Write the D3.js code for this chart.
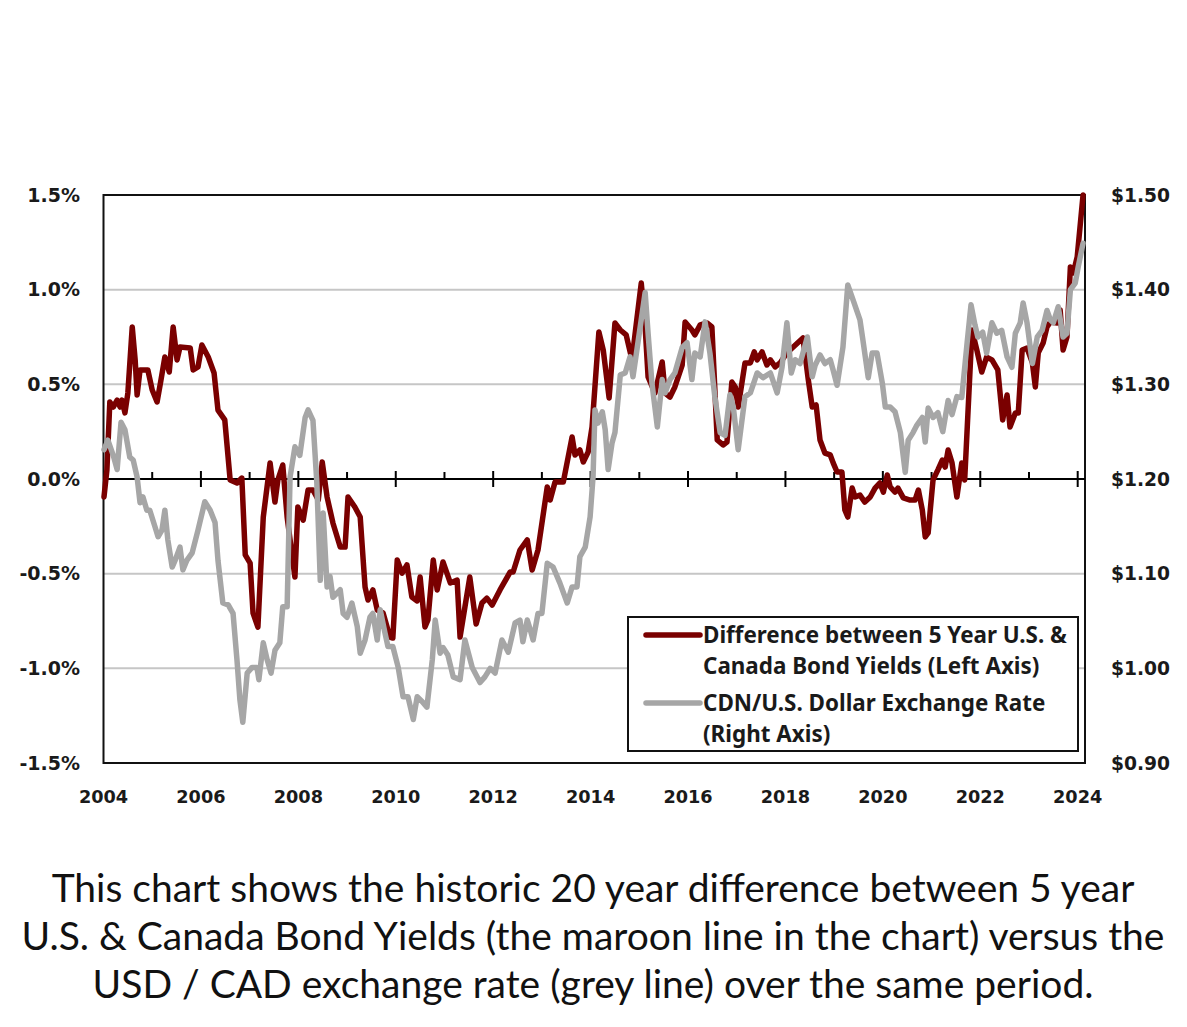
<!DOCTYPE html>
<html><head><meta charset="utf-8">
<script src="https://cdn.jsdelivr.net/npm/d3@7"></script>
<style>html,body{margin:0;padding:0;background:#fff;}</style>
</head><body>
<svg id="c" width="1187" height="1027"></svg>
<script>
// ---------- DATA ----------
const leftTicks = [-1.5, -1.0, -0.5, 0.0, 0.5, 1.0, 1.5];
const rightTicks = [0.90, 1.00, 1.10, 1.20, 1.30, 1.40, 1.50];
const yearTicks = [2004, 2006, 2008, 2010, 2012, 2014, 2016, 2018, 2020, 2022, 2024];
const minorYears = [2005, 2007, 2009, 2011, 2013, 2015, 2017, 2019, 2021, 2023];

const spreadDates = [2004.01,2004.07,2004.13,2004.20,2004.28,2004.34,2004.38,2004.44,2004.50,2004.59,2004.65,2004.69,2004.75,2004.91,2005.00,2005.10,2005.18,2005.26,2005.35,2005.43,2005.51,2005.57,2005.78,2005.84,2005.94,2006.02,2006.15,2006.27,2006.35,2006.49,2006.60,2006.74,2006.84,2006.91,2007.01,2007.07,2007.17,2007.28,2007.42,2007.52,2007.58,2007.68,2007.77,2007.93,2007.99,2008.10,2008.20,2008.30,2008.41,2008.49,2008.59,2008.71,2008.86,2008.96,2009.02,2009.16,2009.27,2009.37,2009.43,2009.53,2009.62,2009.74,2009.88,2009.94,2010.03,2010.13,2010.23,2010.33,2010.44,2010.50,2010.60,2010.66,2010.77,2010.85,2010.97,2011.12,2011.26,2011.32,2011.42,2011.52,2011.65,2011.77,2011.87,2011.98,2012.14,2012.35,2012.41,2012.55,2012.70,2012.80,2012.92,2013.11,2013.17,2013.27,2013.44,2013.62,2013.68,2013.78,2013.85,2013.95,2014.03,2014.17,2014.26,2014.38,2014.50,2014.61,2014.73,2014.85,2014.93,2015.04,2015.12,2015.18,2015.32,2015.47,2015.53,2015.63,2015.73,2015.88,2015.94,2016.08,2016.14,2016.25,2016.39,2016.49,2016.60,2016.72,2016.80,2016.90,2016.97,2017.03,2017.17,2017.28,2017.36,2017.42,2017.52,2017.62,2017.69,2017.79,2017.89,2018.03,2018.16,2018.36,2018.47,2018.55,2018.63,2018.71,2018.81,2018.92,2018.98,2019.06,2019.16,2019.22,2019.28,2019.37,2019.43,2019.53,2019.63,2019.74,2019.84,2019.94,2020.01,2020.09,2020.15,2020.25,2020.31,2020.42,2020.56,2020.66,2020.73,2020.81,2020.87,2020.93,2021.03,2021.13,2021.22,2021.28,2021.34,2021.42,2021.52,2021.62,2021.68,2021.83,2021.93,2022.03,2022.13,2022.24,2022.36,2022.46,2022.55,2022.61,2022.72,2022.78,2022.86,2022.96,2023.07,2023.13,2023.19,2023.29,2023.37,2023.44,2023.58,2023.64,2023.70,2023.78,2023.85,2023.91,2023.99,2024.11];
const spreadValues = [-0.095,0.048,0.407,0.380,0.417,0.380,0.417,0.349,0.454,0.803,0.629,0.444,0.576,0.576,0.470,0.407,0.523,0.644,0.565,0.803,0.629,0.697,0.692,0.576,0.592,0.708,0.644,0.560,0.364,0.312,-0.005,-0.021,0.005,-0.401,-0.444,-0.708,-0.782,-0.201,0.085,-0.122,-0.005,0.074,-0.201,-0.518,-0.148,-0.217,-0.058,-0.058,-0.111,0.090,-0.095,-0.232,-0.359,-0.359,-0.095,-0.148,-0.201,-0.571,-0.639,-0.586,-0.692,-0.708,-0.835,-0.840,-0.428,-0.497,-0.454,-0.623,-0.644,-0.518,-0.782,-0.745,-0.428,-0.586,-0.438,-0.549,-0.534,-0.835,-0.676,-0.518,-0.766,-0.655,-0.629,-0.666,-0.586,-0.491,-0.491,-0.375,-0.322,-0.481,-0.375,-0.042,-0.111,-0.016,-0.016,0.222,0.127,0.153,0.090,0.143,0.275,0.777,0.681,0.428,0.824,0.787,0.761,0.629,0.803,1.035,0.803,0.539,0.454,0.618,0.454,0.433,0.486,0.602,0.829,0.787,0.761,0.814,0.824,0.803,0.206,0.180,0.195,0.512,0.486,0.380,0.613,0.613,0.671,0.629,0.671,0.602,0.629,0.592,0.613,0.666,0.697,0.745,0.523,0.380,0.391,0.206,0.137,0.127,0.085,0.037,0.037,-0.164,-0.201,-0.048,-0.095,-0.085,-0.122,-0.095,-0.048,-0.021,-0.069,0.021,-0.042,-0.069,-0.048,-0.100,-0.111,-0.111,-0.058,-0.164,-0.306,-0.285,-0.005,0.048,0.100,0.063,0.153,0.085,-0.095,0.085,-0.005,0.787,0.681,0.565,0.644,0.629,0.576,0.312,0.444,0.275,0.349,0.349,0.681,0.692,0.613,0.486,0.666,0.718,0.803,0.829,0.824,0.893,0.681,0.750,1.120,1.088,1.173,1.50];

const fxDates = [2004.01,2004.09,2004.20,2004.28,2004.36,2004.44,2004.54,2004.61,2004.69,2004.75,2004.81,2004.89,2004.95,2005.06,2005.12,2005.20,2005.26,2005.32,2005.41,2005.47,2005.57,2005.63,2005.71,2005.82,2005.94,2006.08,2006.19,2006.29,2006.35,2006.45,2006.56,2006.66,2006.74,2006.80,2006.86,2006.95,2007.05,2007.15,2007.19,2007.28,2007.36,2007.44,2007.52,2007.62,2007.68,2007.77,2007.83,2007.93,2008.03,2008.14,2008.20,2008.30,2008.38,2008.45,2008.51,2008.59,2008.65,2008.71,2008.86,2008.92,2009.00,2009.10,2009.21,2009.27,2009.37,2009.47,2009.53,2009.62,2009.68,2009.78,2009.84,2009.94,2010.05,2010.15,2010.25,2010.36,2010.44,2010.54,2010.64,2010.75,2010.81,2010.91,2010.97,2011.07,2011.18,2011.32,2011.42,2011.57,2011.73,2011.83,2011.94,2012.04,2012.18,2012.31,2012.45,2012.55,2012.61,2012.70,2012.76,2012.82,2012.92,2013.00,2013.11,2013.23,2013.37,2013.52,2013.62,2013.72,2013.78,2013.89,2013.99,2014.05,2014.09,2014.15,2014.24,2014.30,2014.36,2014.44,2014.50,2014.61,2014.71,2014.81,2014.87,2014.93,2015.12,2015.18,2015.26,2015.37,2015.47,2015.53,2015.63,2015.73,2015.88,2015.98,2016.08,2016.14,2016.25,2016.35,2016.45,2016.55,2016.66,2016.76,2016.86,2016.93,2017.03,2017.17,2017.28,2017.42,2017.54,2017.69,2017.83,2017.93,2018.03,2018.12,2018.20,2018.30,2018.45,2018.55,2018.61,2018.71,2018.81,2018.92,2018.98,2019.06,2019.18,2019.28,2019.39,2019.53,2019.59,2019.70,2019.78,2019.88,2019.99,2020.05,2020.15,2020.25,2020.36,2020.46,2020.52,2020.62,2020.70,2020.81,2020.87,2020.93,2021.03,2021.13,2021.23,2021.34,2021.42,2021.52,2021.62,2021.73,2021.81,2021.89,2021.95,2022.05,2022.13,2022.24,2022.34,2022.44,2022.55,2022.65,2022.72,2022.82,2022.88,2022.96,2023.07,2023.17,2023.27,2023.37,2023.44,2023.50,2023.60,2023.70,2023.78,2023.85,2023.95,2024.01,2024.11];
const fxValues = [1.231,1.241,1.225,1.210,1.260,1.252,1.223,1.220,1.202,1.175,1.181,1.167,1.167,1.149,1.139,1.146,1.167,1.136,1.107,1.114,1.128,1.104,1.114,1.122,1.146,1.176,1.167,1.154,1.114,1.069,1.067,1.058,1.009,0.967,0.943,0.995,1.001,1.001,0.988,1.027,1.009,0.995,1.019,1.027,1.065,1.065,1.202,1.234,1.225,1.265,1.273,1.262,1.196,1.093,1.164,1.086,1.097,1.075,1.083,1.058,1.054,1.069,1.044,1.016,1.030,1.054,1.058,1.030,1.062,1.037,1.023,1.023,1.001,0.970,0.970,0.946,0.970,0.965,0.959,1.009,1.051,1.016,1.022,1.014,0.991,0.988,1.030,1.001,0.985,0.991,1.000,0.995,1.030,1.017,1.048,1.051,1.028,1.051,1.041,1.030,1.058,1.058,1.111,1.107,1.090,1.069,1.086,1.086,1.118,1.128,1.160,1.202,1.273,1.259,1.271,1.252,1.210,1.238,1.249,1.310,1.312,1.329,1.308,1.329,1.397,1.354,1.301,1.255,1.305,1.291,1.305,1.312,1.339,1.344,1.305,1.333,1.329,1.366,1.333,1.287,1.249,1.246,1.289,1.276,1.231,1.287,1.291,1.312,1.307,1.312,1.291,1.318,1.365,1.312,1.326,1.322,1.350,1.308,1.320,1.331,1.322,1.326,1.315,1.299,1.339,1.405,1.389,1.368,1.347,1.307,1.333,1.333,1.301,1.276,1.276,1.271,1.249,1.207,1.241,1.249,1.257,1.265,1.239,1.275,1.265,1.270,1.250,1.283,1.268,1.287,1.286,1.344,1.384,1.363,1.350,1.355,1.333,1.365,1.354,1.357,1.329,1.318,1.354,1.365,1.386,1.365,1.322,1.350,1.357,1.378,1.368,1.365,1.382,1.350,1.354,1.400,1.407,1.424,1.449];

const legendLabels = [
  ["Difference between 5 Year U.S. &", "Canada Bond Yields (Left Axis)"],
  ["CDN/U.S. Dollar Exchange Rate", "(Right Axis)"]
];
const captionLines = [
  "This chart shows the historic 20 year difference between 5 year",
  "U.S. & Canada Bond Yields (the maroon line in the chart) versus the",
  "USD / CAD exchange rate (grey line) over the same period."
];

// ---------- CHART ----------
const MAROON = "#7a0000", GREY = "#a6a6a6";
const svg = d3.select("#c");
const L = 103.5, R = 1085, T = 195, B = 763;
const x = d3.scaleLinear().domain([2004, 2024.15]).range([L, R]);
const yL = d3.scaleLinear().domain([-1.5, 1.5]).range([B, T]);
const yR = d3.scaleLinear().domain([0.9, 1.5]).range([B, T]);
const axisFont = "'DejaVu Sans', Verdana, sans-serif";

// gridlines
svg.append("g").selectAll("line").data(leftTicks.filter(d => d !== 0 && Math.abs(d) !== 1.5))
  .join("line").attr("x1", L).attr("x2", R).attr("y1", d => yL(d)).attr("y2", d => yL(d))
  .attr("stroke", "#c6c6c6").attr("stroke-width", 2);

// frame
svg.append("rect").attr("x", L).attr("y", T).attr("width", R - L).attr("height", B - T)
  .attr("fill", "none").attr("stroke", "#111").attr("stroke-width", 2);

// zero axis with ticks
const xAxisG = svg.append("g").attr("transform", `translate(0,${yL(0)})`);
xAxisG.append("line").attr("x1", L).attr("x2", R).attr("stroke", "#000").attr("stroke-width", 2);
xAxisG.selectAll("line.maj").data(yearTicks.slice(1)).join("line").attr("class", "maj")
  .attr("x1", d => x(d)).attr("x2", d => x(d)).attr("y1", -8).attr("y2", 8)
  .attr("stroke", "#000").attr("stroke-width", 2);
xAxisG.selectAll("line.min").data(minorYears).join("line").attr("class", "min")
  .attr("x1", d => x(d)).attr("x2", d => x(d)).attr("y1", -7).attr("y2", 0)
  .attr("stroke", "#000").attr("stroke-width", 2);

// left labels (hyphen-minus, as in the original)
const fmtL = d => (d < 0 ? "-" : "") + Math.abs(d).toFixed(1) + "%";
svg.append("g").selectAll("text").data(leftTicks).join("text")
  .attr("x", 80).attr("y", d => yL(d)).attr("dy", "0.35em").attr("text-anchor", "end")
  .attr("font-family", axisFont).attr("font-weight", "bold").attr("font-size", 19).attr("fill", "#1a1a1a")
  .text(fmtL);
// right labels
svg.append("g").selectAll("text").data(rightTicks).join("text")
  .attr("x", 1111).attr("y", d => yR(d)).attr("dy", "0.35em").attr("text-anchor", "start")
  .attr("font-family", axisFont).attr("font-weight", "bold").attr("font-size", 18.7).attr("fill", "#1a1a1a")
  .text(d => "$" + d.toFixed(2));
// bottom labels
svg.append("g").selectAll("text").data(yearTicks).join("text")
  .attr("x", d => x(d)).attr("y", 797).attr("dy", "0.35em").attr("text-anchor", "middle")
  .attr("font-family", axisFont).attr("font-weight", "bold").attr("font-size", 17.7).attr("fill", "#1a1a1a")
  .text(d => d);

// lines (grey drawn over maroon, as in the original)
const spreadData = spreadDates.map((d, i) => [d, spreadValues[i]]);
const fxData = fxDates.map((d, i) => [d, fxValues[i]]);
svg.append("path").datum(spreadData)
  .attr("d", d3.line().x(d => x(d[0])).y(d => yL(d[1])))
  .attr("fill", "none").attr("stroke", MAROON).attr("stroke-width", 5.5)
  .attr("stroke-linejoin", "round").attr("stroke-linecap", "round");
svg.append("path").datum(fxData)
  .attr("d", d3.line().x(d => x(d[0])).y(d => yR(d[1])))
  .attr("fill", "none").attr("stroke", GREY).attr("stroke-width", 5.5)
  .attr("stroke-linejoin", "round").attr("stroke-linecap", "round");

// legend
const lg = svg.append("g");
lg.append("rect").attr("x", 628).attr("y", 617).attr("width", 450).attr("height", 134)
  .attr("fill", "#fff").attr("stroke", "#111").attr("stroke-width", 2);
const legFont = "'Noto Sans', 'Open Sans', sans-serif";
const legTexts = [];
[[MAROON, 635], [GREY, 703]].forEach(([col, yy], i) => {
  lg.append("line").attr("x1", 646).attr("x2", 700).attr("y1", yy).attr("y2", yy)
    .attr("stroke", col).attr("stroke-width", 5.5).attr("stroke-linecap", "round");
  legendLabels[i].forEach((t, j) => {
    legTexts.push(lg.append("text").attr("x", 703).attr("y", yy + j * 31).attr("dy", "0.35em")
      .attr("font-family", legFont).attr("font-weight", "bold").attr("font-size", 20)
      .attr("fill", "#1a1a1a").text(t));
  });
});
// fit legend font so the first line spans the same width as in the original (~364px)
const w0 = legTexts[0].node().getComputedTextLength();
const legSize = Math.min(24, 20 * 364 / w0);
legTexts.forEach(t => t.attr("font-size", legSize));

// caption
const cap = svg.append("g").selectAll("text").data(captionLines).join("text")
  .attr("x", 593).attr("y", (d, i) => 902 + i * 48).attr("text-anchor", "middle")
  .attr("font-family", "Lato, 'Noto Sans', sans-serif").attr("font-size", 33).attr("fill", "#111")
  .text(d => d);
const cw = cap.nodes()[1].getComputedTextLength();
cap.attr("font-size", Math.min(40, 33 * 1143 / cw));
</script>
</body></html>
